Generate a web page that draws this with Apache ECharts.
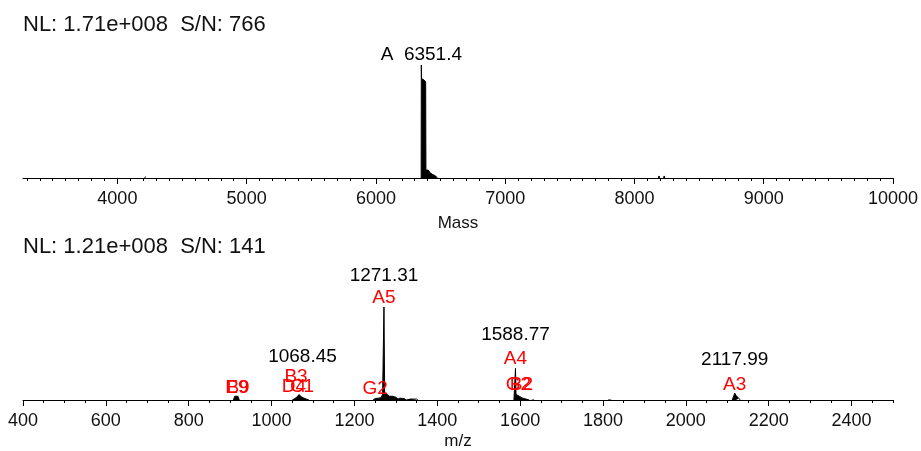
<!DOCTYPE html>
<html>
<head>
<meta charset="utf-8">
<script src="https://cdn.jsdelivr.net/npm/echarts@6/dist/echarts.min.js"></script>
<style>
html,body{margin:0;padding:0;background:#fff;}
#chart{width:921px;height:451px;}
</style>
</head>
<body>
<div id="chart"></div>
<script>
// ---------- DATA ----------
// Top spectrum (deconvoluted mass), relative intensity in %
const topMass = [4212, 4217, 4222, 6345, 6350, 6351.4, 6353, 6360, 6370, 6380, 6385, 6387, 6395, 6405, 6415, 6420, 6430, 6440, 6448, 6460, 6470, 6475, 8186, 8190, 8194, 8226, 8230, 8234];
const topInt  = [0,    1.3,  0,    0,    0,    100,    88,   88,   87,   86,   85,   7,    6.5,  7,    6,    4.5,  4.5,  3,    2.5,  2,    1,    0,    0,    1.8,  0,    0,    1.8,  0];

// Bottom spectrum (m/z), relative intensity in %
const botMz  = [908, 911, 919, 922, 1050, 1056, 1062, 1066, 1068.45, 1072, 1078, 1084, 1090, 1245, 1250, 1258, 1264, 1268, 1271.31, 1273, 1276, 1279, 1282, 1285, 1288, 1292, 1296, 1300, 1305, 1310, 1314, 1320, 1325, 1335, 1338, 1350, 1353, 1585, 1588.77, 1590, 1594, 1598, 1602, 1606, 1610, 1614, 1618, 1622, 1628, 1631, 1634, 1812, 1816, 1820, 2112, 2116, 2117.99, 2121, 2124, 2128, 2132];
const botInt = [0,   4,   4,   0,   0,    1.5,  3.5,  5.8,  5,       3.5,  2,    1,    0,    0,    1.5,  2,    2.5,  6,    100,     8,    9,    6,    7,    4,    3,    4,    2,    3,    1,    2,    0.5,  1.5,  0,    1,    0,    1,    0,    0,    34,      6,    5,    4,    3,    2,    1.5,  1,    0.5,  0,    0,    2,    0,    0,    2,    0,    0,    5,    7.4,     5,    3,    1.5,  0];

// Tick labels
const topTicks = [4000, 5000, 6000, 7000, 8000, 9000, 10000];
const botTicks = [400, 600, 800, 1000, 1200, 1400, 1600, 1800, 2000, 2200, 2400];

// Annotations: text, anchor (x in axis units, y level in %), colour group
const topLabText  = ['A  6351.4'];
const topLabX     = [6351.4];
const topLabLevel = [109];
const topLabRed   = [false];

const botLabText  = ['1271.31', 'A5', 'G2', '1588.77', 'A4', 'G2', 'B2', '2117.99', 'A3', '1068.45', 'B3', 'D4', 'C1', 'B9', 'E9'];
const botLabX     = [1271.31, 1271.31, 1250, 1588.77, 1588.77, 1596, 1603, 2117.99, 2117.99, 1074.6, 1059, 1054, 1073.5, 919, 916.5];
const botLabLevel = [134, 109.5, 12.5, 69.8, 44.7, 16.3, 16.3, 43.5, 16.3, 46.5, 25, 13.8, 13.8, 13.5, 13.5];
const botLabRed   = [false, true, true, false, true, true, true, false, true, false, true, true, true, true, true];

const topNL = 'NL: 1.71e+008  S/N: 766';
const botNL = 'NL: 1.21e+008  S/N: 141';

// ---------- BUILD ----------
const FONT = '"Liberation Sans", Arial, sans-serif';
const BLACK = '#000';
const RED = '#ff0000';

// pairs; a run of zeros between clusters becomes a gap so nothing is drawn on the baseline
function pairs(xs, ys) {
  const out = [];
  for (let i = 0; i < xs.length; i++) {
    if (i > 0 && ys[i] === 0 && ys[i - 1] === 0) out.push([null, null]);
    out.push([xs[i], ys[i]]);
  }
  return out;
}
function range(a, b, step) { const r = []; for (let v = a; v <= b + 1e-9; v += step) r.push(v); return r; }
function labels(texts, xs, lv, red) {
  return texts.map((t, i) => ({ name: t, value: [xs[i], lv[i]], label: { color: red[i] ? RED : BLACK } }));
}

const topMin = 3270, topMax = 10000;
const botMin = 400, botMax = 2500;
const topMinor = range(3300, 10000, 100);
const botMinor = range(400, 2500, 50);

function majorAxis(grid, min, max, ticks, name, nameGap) {
  return {
    type: 'value', gridIndex: grid, position: 'bottom', min: min, max: max,
    axisLine: { show: true, onZero: false, lineStyle: { color: '#000', width: 1 } },
    axisTick: { show: true, customValues: ticks, length: 6, lineStyle: { color: '#000', width: 1 } },
    axisLabel: { show: true, customValues: ticks, margin: 12, color: '#111', fontSize: 18, fontFamily: FONT,
                 formatter: v => String(v) },
    splitLine: { show: false },
    name: name, nameLocation: 'middle', nameGap: nameGap,
    nameTextStyle: { color: '#111', fontSize: 17, fontFamily: FONT }
  };
}
function minorAxis(grid, min, max, ticks) {
  return {
    type: 'value', gridIndex: grid, position: 'bottom', min: min, max: max,
    axisLine: { show: false },
    axisTick: { show: true, customValues: ticks, length: 3, lineStyle: { color: '#000', width: 1 } },
    axisLabel: { show: false },
    splitLine: { show: false }
  };
}
function stickSeries(xi, yi, data) {
  return {
    type: 'line', xAxisIndex: xi, yAxisIndex: yi, data: data, connectNulls: false,
    symbol: 'none', silent: true, z: 3,
    lineStyle: { color: '#000', width: 1 },
    areaStyle: { color: '#000', opacity: 1, origin: 'start' }
  };
}
function labelSeries(xi, yi, data) {
  return {
    type: 'scatter', xAxisIndex: xi, yAxisIndex: yi, data: data, clip: false,
    symbolSize: 0, itemStyle: { color: '#fff', opacity: 1 }, silent: true, z: 5,
    label: { show: true, position: 'inside', formatter: '{b}', fontSize: 19, fontFamily: FONT,
             opacity: 1, textBorderWidth: 0 }
  };
}

const chart = echarts.init(document.getElementById('chart'), null, { renderer: 'canvas' });
chart.setOption({
  animation: false,
  backgroundColor: '#fff',
  grid: [
    { left: 23, right: 28, top: 65, height: 113 },
    { left: 23, right: 28, top: 307, height: 95 }
  ],
  xAxis: [
    majorAxis(0, topMin, topMax, topTicks, 'Mass', 37),
    minorAxis(0, topMin, topMax, topMinor),
    majorAxis(1, botMin, botMax, botTicks, 'm/z', 33),
    minorAxis(1, botMin, botMax, botMinor)
  ],
  yAxis: [
    { type: 'value', gridIndex: 0, min: 0, max: 100, show: false },
    { type: 'value', gridIndex: 1, min: 0, max: 100, show: false }
  ],
  graphic: [
    { type: 'text', left: 23, top: 14, style: { text: topNL, fill: '#111', font: '22px ' + FONT } },
    { type: 'text', left: 23, top: 236, style: { text: botNL, fill: '#111', font: '22px ' + FONT } }
  ],
  series: [
    stickSeries(0, 0, pairs(topMass, topInt)),
    stickSeries(2, 1, pairs(botMz, botInt)),
    labelSeries(0, 0, labels(topLabText, topLabX, topLabLevel, topLabRed)),
    labelSeries(2, 1, labels(botLabText, botLabX, botLabLevel, botLabRed))
  ]
});
</script>
</body>
</html>
